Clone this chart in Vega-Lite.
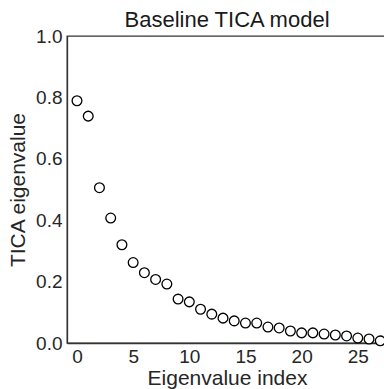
{
  "$schema": "https://vega.github.io/schema/vega-lite/v6.json",
  "autosize": "none",
  "padding": {"left": 67, "top": 36, "right": 0, "bottom": 46},
  "width": 320,
  "height": 307,
  "title": {"text": "Baseline TICA model", "font": "Liberation Sans", "fontSize": 22, "fontWeight": "normal", "color": "#1a1a1a", "offset": -5},
  "config": {
    "view": {"stroke": "#333333", "strokeWidth": 1.3},
    "axis": {"grid": false, "ticks": false, "domainColor": "#333333", "domainWidth": 1.3, "labelFont": "Liberation Sans", "labelFontSize": 19, "labelColor": "#262626", "titleFont": "Liberation Sans", "titleFontSize": 21, "titleFontWeight": "normal", "titleColor": "#262626"}
  },
  "data": {"values": [
    {"i": 0, "v": 0.789}, {"i": 1, "v": 0.739}, {"i": 2, "v": 0.506}, {"i": 3, "v": 0.407},
    {"i": 4, "v": 0.32}, {"i": 5, "v": 0.262}, {"i": 6, "v": 0.229}, {"i": 7, "v": 0.207},
    {"i": 8, "v": 0.192}, {"i": 9, "v": 0.143}, {"i": 10, "v": 0.134}, {"i": 11, "v": 0.11},
    {"i": 12, "v": 0.094}, {"i": 13, "v": 0.081}, {"i": 14, "v": 0.072}, {"i": 15, "v": 0.065},
    {"i": 16, "v": 0.065}, {"i": 17, "v": 0.052}, {"i": 18, "v": 0.049}, {"i": 19, "v": 0.039},
    {"i": 20, "v": 0.033}, {"i": 21, "v": 0.033}, {"i": 22, "v": 0.029}, {"i": 23, "v": 0.026},
    {"i": 24, "v": 0.023}, {"i": 25, "v": 0.016}, {"i": 26, "v": 0.013}, {"i": 27, "v": 0.007}
  ]},
  "mark": {"type": "point", "shape": "circle", "filled": false, "fill": "white", "fillOpacity": 1, "stroke": "black", "strokeWidth": 1.3, "size": 95, "opacity": 1},
  "encoding": {
    "x": {"field": "i", "type": "quantitative", "scale": {"domain": [-0.89, 27.6], "nice": false, "zero": false}, "axis": {"values": [0, 5, 10, 15, 20, 25], "title": "Eigenvalue index", "labelPadding": 4, "titlePadding": 1}},
    "y": {"field": "v", "type": "quantitative", "scale": {"domain": [0, 1], "nice": false}, "axis": {"values": [0, 0.2, 0.4, 0.6, 0.8, 1.0], "format": ".1f", "title": "TICA eigenvalue", "labelPadding": 5, "titlePadding": 7}}
  }
}
